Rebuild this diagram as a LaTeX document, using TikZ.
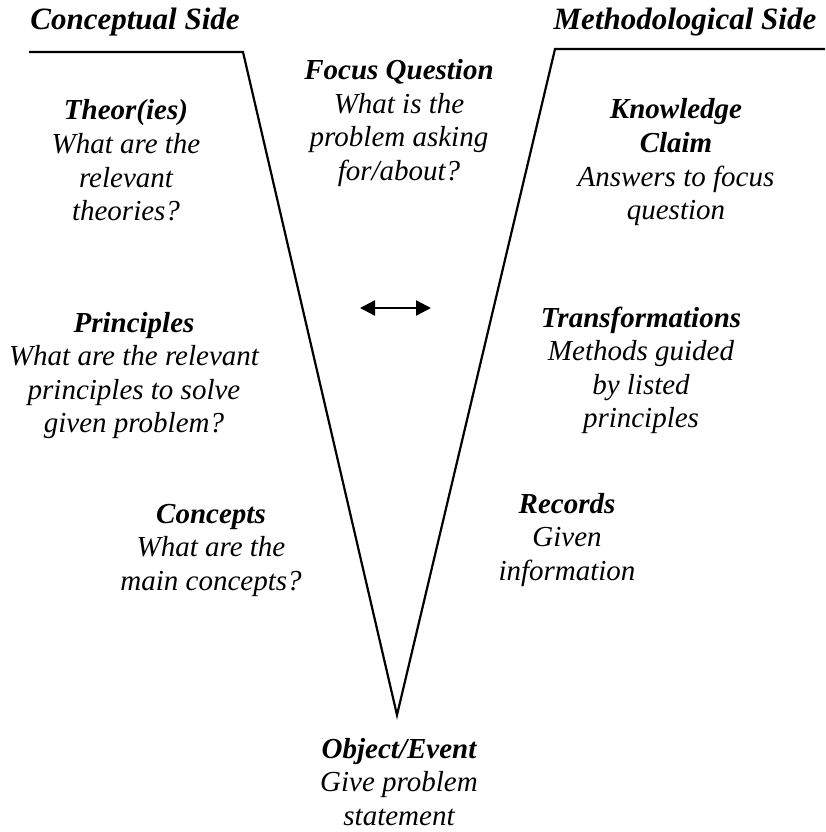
\documentclass[tikz,border=0pt]{standalone}
\usepackage{fontspec}
\setmainfont{Liberation Serif}
\usetikzlibrary{arrows.meta}

% A centred block: bold heading over italic lines, anchored on the first baseline
\newcommand{\vblock}[2]{\begin{tabular}[t]{@{}c@{}}\bfseries #1\\#2\end{tabular}}

\begin{document}
\begin{tikzpicture}[x=1pt,y=-1pt,
  label/.style={inner sep=0pt,anchor=base,font=\itshape\fontsize{29}{33.5}\selectfont},
  sidetitle/.style={label,font=\bfseries\itshape\fontsize{31}{35}\selectfont},
  vline/.style={line width=2.2pt,line join=miter},
  twoway/.style={line width=2.4pt,{Triangle[length=15pt,width=15pt]}-{Triangle[length=15pt,width=15pt]}}]
\useasboundingbox (0,0) rectangle (825,832);

% the Vee
\coordinate (lend) at (29,52);
\coordinate (lcorner) at (243,52);
\coordinate (tip) at (397,715);
\coordinate (rcorner) at (555,49);
\coordinate (rend) at (825,49);
\draw[vline] (lend) -- (lcorner) -- (tip) -- (rcorner) -- (rend);

% side titles
\node[sidetitle] (conceptual) at (135,30) {Conceptual Side};
\node[sidetitle] (methodological) at (685,30) {Methodological Side};

% centre
\node[label] (focus) at (399,80) {\vblock{Focus Question}{What is the\\problem asking\\for/about?}};
\node[label] (object) at (399,758) {\vblock{Object/Event}{Give problem\\statement}};

% conceptual side
\node[label] (theories) at (126,120) {\vblock{Theor(ies)}{What are the\\relevant\\theories?}};
\node[label] (principles) at (134,332) {\vblock{Principles}{What are the relevant\\principles to solve\\given problem?}};
\node[label] (concepts) at (211,523) {\vblock{Concepts}{What are the\\main concepts?}};

% methodological side
\node[label] (claim) at (676,119) {\vblock{Knowledge}{\bfseries Claim\\Answers to focus\\question}};
\node[label] (transform) at (641,327) {\vblock{Transformations}{Methods guided\\by listed\\principles}};
\node[label] (records) at (567,513) {\vblock{Records}{Given\\information}};

% interplay between the two sides
\coordinate (arrowl) at (360,308);
\coordinate (arrowr) at (431,308);
\draw[twoway] (arrowl) -- (arrowr);
\end{tikzpicture}
\end{document}
